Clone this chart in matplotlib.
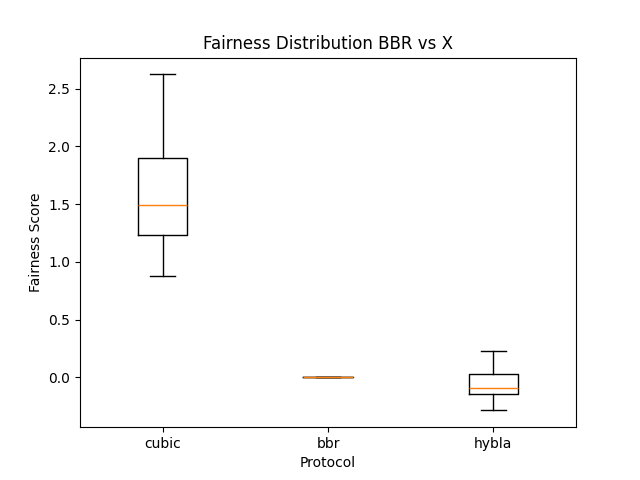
import matplotlib
matplotlib.use("Agg")
import matplotlib.pyplot as plt

protocols = ["cubic", "bbr", "hybla"]

# five-number summaries: min, q1, median, q3, max
cubic_scores = [0.874, 1.229, 1.489, 1.896, 2.623]
bbr_scores = [0.0, 0.0, 0.0, 0.0, 0.0]
hybla_scores = [-0.286, -0.147, -0.095, 0.026, 0.225]

fig, ax = plt.subplots(figsize=(6.4, 4.8), dpi=100)
ax.boxplot([cubic_scores, bbr_scores, hybla_scores], tick_labels=protocols)
ax.set_title("Fairness Distribution BBR vs X")
ax.set_xlabel("Protocol")
ax.set_ylabel("Fairness Score")

fig.savefig("out.png")
plt.close(fig)
